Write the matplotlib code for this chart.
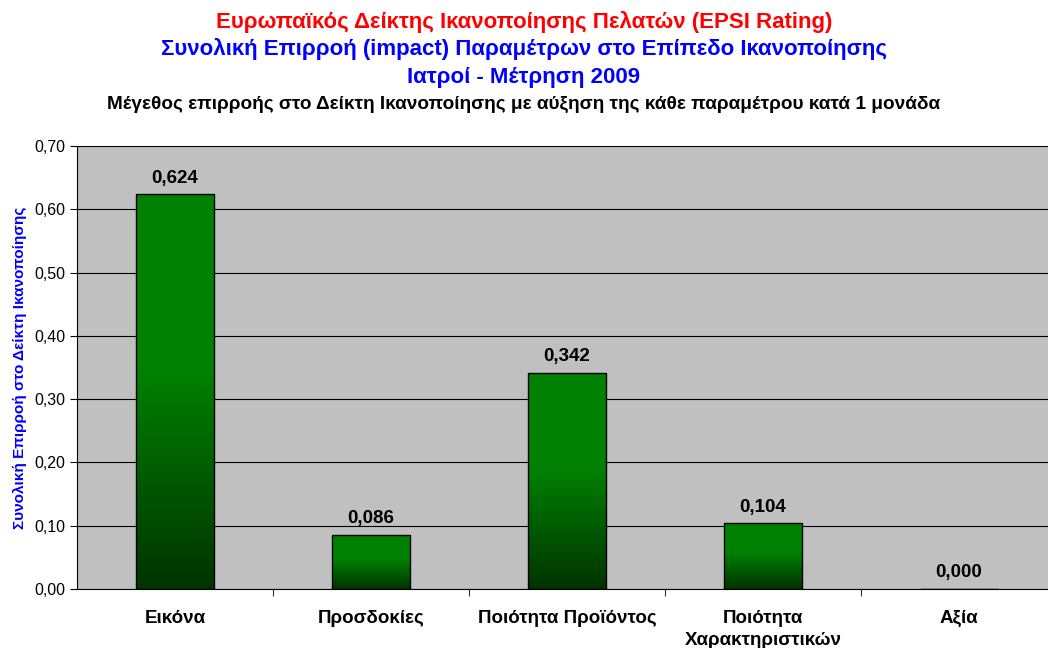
import numpy as np
import matplotlib.pyplot as plt
from matplotlib.colors import LinearSegmentedColormap
from matplotlib.ticker import MultipleLocator, FixedLocator

plt.rcParams['font.family'] = ['Liberation Sans', 'DejaVu Sans']

# data
categories = ["Εικόνα", "Προσδοκίες", "Ποιότητα Προϊόντος", "Ποιότητα\nΧαρακτηριστικών", "Αξία"]
impact = [0.624, 0.086, 0.342, 0.104, 0.000]
value_labels = ["0,624", "0,086", "0,342", "0,104", "0,000"]

fig = plt.figure(figsize=(10.48, 6.48), dpi=100)
# plot area runs a little past the right edge, like the original
ax = fig.add_axes([0.0735, 0.091, 0.935, 0.6837])
ax.set_facecolor("#C0C0C0")

x = np.arange(len(categories))
width = 0.40
bars = ax.bar(x, impact, width=width, color="none", edgecolor="black", linewidth=1.0, zorder=3)

# green gradient fill per bar (dark at bottom)
cmap = LinearSegmentedColormap.from_list("g", [(0, "#003300"), (0.55, "#008000"), (1, "#008000")])
grad = np.linspace(0, 1, 256).reshape(-1, 1)
for b in bars:
    h = b.get_height()
    if h <= 0:
        continue
    x0 = b.get_x()
    im = ax.imshow(grad, cmap=cmap, origin="lower", aspect="auto",
                   extent=[x0, x0 + b.get_width(), 0, h], zorder=2)
    im.set_clip_path(b)

ax.set_xlim(-0.5, len(categories) - 0.5)
ax.set_ylim(0, 0.70)

# value labels
for xi, v, lab in zip(x, impact, value_labels):
    ax.text(xi, v + 0.012, lab, ha="center", va="bottom", fontsize=13.5, fontweight="bold", zorder=4)

ax.yaxis.set_major_locator(MultipleLocator(0.1))
ax.set_yticklabels([f"{t:.2f}".replace(".", ",") for t in ax.get_yticks()])
ax.grid(axis="y", color="black", linewidth=0.8, zorder=1)
ax.set_axisbelow(True)

ax.set_xticks(x)
ax.set_xticklabels(categories, fontsize=13.5, fontweight="bold", linespacing=1.4)
ax.tick_params(axis="x", which="major", length=0, pad=15)
ax.xaxis.set_minor_locator(FixedLocator(np.arange(0.5, len(categories) - 1, 1)))
ax.tick_params(axis="x", which="minor", length=5, color="black")
ax.tick_params(axis="y", labelsize=11.5, length=5, color="black")

for side in ["top", "right"]:
    ax.spines[side].set_visible(False)
ax.spines["left"].set_color("black")
ax.spines["bottom"].set_color("black")

ax.set_ylabel("Συνολική Επιρροή στο Δείκτη Ικανοποίησης", color="#0000FF",
              fontsize=11, fontweight="bold", labelpad=5)

# titles
fig.text(0.5, 0.966, "Ευρωπαϊκός Δείκτης Ικανοποίησης Πελατών (EPSI Rating)",
         ha="center", va="center", color="#FF0000", fontsize=16, fontweight="bold")
fig.text(0.5, 0.924, "Συνολική Επιρροή (impact) Παραμέτρων στο Επίπεδο Ικανοποίησης",
         ha="center", va="center", color="#0000FF", fontsize=16, fontweight="bold")
fig.text(0.5, 0.881, "Ιατροί - Μέτρηση 2009",
         ha="center", va="center", color="#0000FF", fontsize=16, fontweight="bold")
fig.text(0.5, 0.8395, "Μέγεθος επιρροής στο Δείκτη Ικανοποίησης με αύξηση της κάθε παραμέτρου κατά 1 μονάδα",
         ha="center", va="center", color="black", fontsize=13.7, fontweight="bold")

fig.savefig("out.png", dpi=100)
